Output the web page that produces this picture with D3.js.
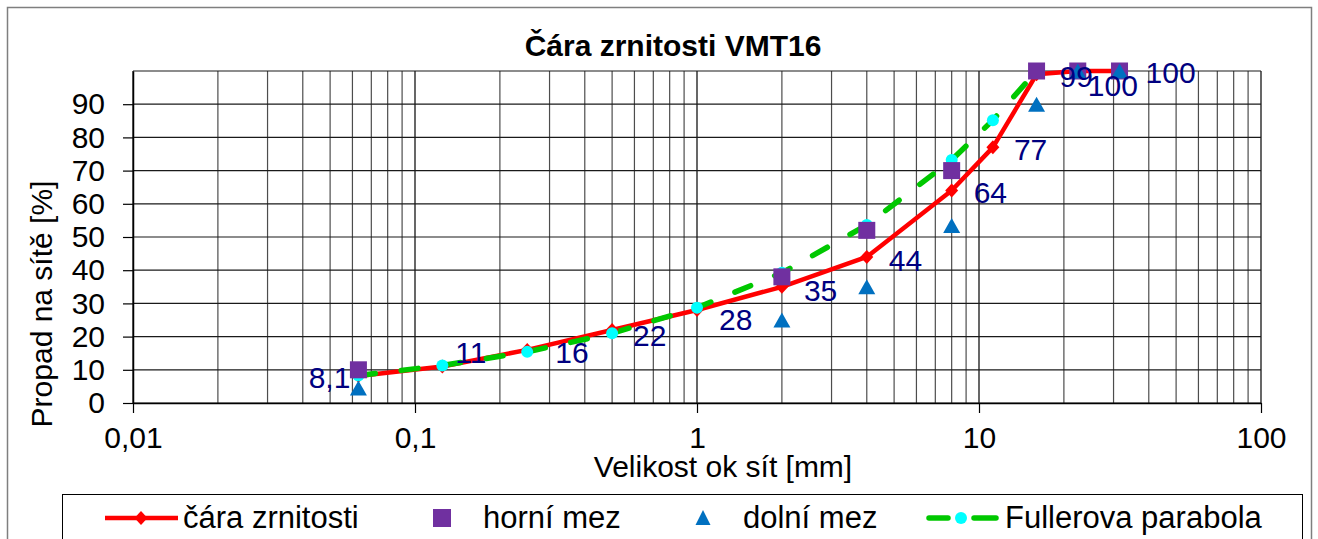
<!DOCTYPE html>
<html>
<head>
<meta charset="utf-8">
<script src="https://cdn.jsdelivr.net/npm/d3@7"></script>
<style>
  body { margin: 0; background: #fff; }
  svg { display: block; font-family: "Liberation Sans", Arial, sans-serif; }
</style>
</head>
<body>
<div id="chart"></div>
<script>
// sieve sizes [mm] and passing [%]
var sieves       = [0.063, 0.125, 0.25, 0.5, 1, 2, 4, 8, 11.2, 16, 22.4, 31.5];
var grading      = [8.1, 11, 16, 22, 28, 35, 44, 64, 77, 99, 100, 100];
var gradingText  = ["8,1", "11", "16", "22", "28", "35", "44", "64", "77", "99", "100", "100"];
var upperLimit   = [10, null, null, null, null, 38, 52, 70, null, 100, 100, 100];
var lowerLimit   = [4.5, null, null, null, null, 25, 35, 53.5, null, 90, 100, 100];
var fuller       = [8.3, 11.3, 15.4, 21, 28.7, 39.2, 53.6, 73.2, 85.2, 100, null, null];

var xTicks      = [0.01, 0.1, 1, 10, 100];
var xTickLabels = ["0,01", "0,1", "1", "10", "100"];
var yTicks      = [0, 10, 20, 30, 40, 50, 60, 70, 80, 90];

var seriesNames = ["čára zrnitosti", "horní mez", "dolní mez", "Fullerova parabola"];

var W = 1318, H = 539;
var red = "#ff0000", purple = "#7030a0", blue = "#0070c0", green = "#00c800", cyan = "#00ffff", navy = "#000080";

var svg = d3.select("#chart").append("svg")
  .attr("width", W).attr("height", H);

svg.append("rect").attr("width", W).attr("height", H).attr("fill", "#fff");
svg.append("rect")
  .attr("x", 7.5).attr("y", 7.5).attr("width", 1304).attr("height", 560)
  .attr("fill", "none").attr("stroke", "#7f7f7f").attr("stroke-width", 1.5);

var x = d3.scaleLog().domain([0.01, 100]).range([133, 1261]);
var y = d3.scaleLinear().domain([0, 100]).range([403, 71]);

// title
svg.append("text")
  .attr("x", 673).attr("y", 56)
  .attr("text-anchor", "middle")
  .style("font-weight", "bold").style("font-size", "30px")
  .text("Čára zrnitosti VMT16");

// grid
var grid = svg.append("g").attr("stroke", "#1a1a1a").attr("stroke-width", 1.2);
var vlines = [];
[0.01, 0.1, 1, 10].forEach(function (dec) {
  d3.range(1, 10).forEach(function (k) { vlines.push(dec * k); });
});
vlines.push(100);
grid.selectAll(".v").data(vlines).enter().append("line")
  .attr("x1", function (d) { return x(d); }).attr("x2", function (d) { return x(d); })
  .attr("y1", y(0)).attr("y2", y(100))
  .attr("stroke", function (d) { return xTicks.indexOf(d) >= 0 ? "#000" : "#4d4d4d"; });
grid.selectAll(".h").data(d3.range(0, 101, 10)).enter().append("line")
  .attr("x1", x(0.01)).attr("x2", x(100))
  .attr("y1", function (d) { return y(d); }).attr("y2", function (d) { return y(d); });

// axes
var fmtX = function (d) { return xTickLabels[xTicks.indexOf(d)]; };
var xAxis = svg.append("g")
  .attr("transform", "translate(0," + y(0) + ")")
  .call(d3.axisBottom(x).tickValues(xTicks).tickFormat(fmtX).tickSize(10).tickPadding(14).tickSizeOuter(0));
var yAxis = svg.append("g")
  .attr("transform", "translate(" + x(0.01) + ",0)")
  .call(d3.axisLeft(y).tickValues(yTicks).tickSize(10).tickPadding(18).tickSizeOuter(0));
[xAxis, yAxis].forEach(function (a) {
  a.select(".domain").attr("stroke", "#000").attr("stroke-width", 1.5);
  a.selectAll(".tick line").attr("stroke", "#000").attr("stroke-width", 1.2);
  a.selectAll(".tick text").attr("fill", "#000").style("font-size", "30px").style("font-family", "Liberation Sans, Arial, sans-serif");
});

svg.append("text")
  .attr("x", 723).attr("y", 477)
  .attr("text-anchor", "middle").style("font-size", "30px")
  .text("Velikost ok sít [mm]");
svg.append("text")
  .attr("transform", "translate(52,304) rotate(-90)")
  .attr("text-anchor", "middle").style("font-size", "30px")
  .text("Propad na sítě [%]");

// series helpers
function pts(vals) {
  return sieves.map(function (s, i) { return {x: s, y: vals[i], i: i}; })
    .filter(function (d) { return d.y !== null; });
}
var line = d3.line().x(function (d) { return x(d.x); }).y(function (d) { return y(d.y); });
var diamond = "M0,-7L6.5,0L0,7L-6.5,0Z";
var triangle = "M0,-8L8.5,7L-8.5,7Z";

var plot = svg.append("g");
var gData = pts(grading), fData = pts(fuller);

// lines first
plot.append("path").datum(gData).attr("d", line)
  .attr("fill", "none").attr("stroke", red).attr("stroke-width", 4.5).attr("stroke-linejoin", "round");
plot.append("path").datum(fData).attr("d", line)
  .attr("fill", "none").attr("stroke", green).attr("stroke-width", 5.5)
  .attr("stroke-dasharray", "17,26").attr("stroke-linecap", "round");

// markers
plot.selectAll(".dm").data(gData).enter().append("path")
  .attr("d", diamond).attr("fill", red)
  .attr("transform", function (d) { return "translate(" + x(d.x) + "," + y(d.y) + ")"; });
plot.selectAll(".ci").data(fData).enter().append("circle")
  .attr("cx", function (d) { return x(d.x); }).attr("cy", function (d) { return y(d.y); })
  .attr("r", 6).attr("fill", cyan);
plot.selectAll(".sq").data(pts(upperLimit)).enter().append("rect")
  .attr("x", function (d) { return x(d.x) - 8.5; }).attr("y", function (d) { return y(d.y) - 8.5; })
  .attr("width", 17).attr("height", 17).attr("fill", purple);
plot.selectAll(".tr").data(pts(lowerLimit)).enter().append("path")
  .attr("d", triangle).attr("fill", blue)
  .attr("transform", function (d) { return "translate(" + x(d.x) + "," + (y(d.y) + 0.5) + ")"; });

// data labels (nudged like the hand-placed originals)
var nudge = [[-8, 1], [13, -14], [28, 3], [21, 6], [22, 9], [22, 4], [22, 4], [22, 2], [21, 2], [23, 2], [10, 14], [26, 1]];
plot.selectAll(".lbl").data(gData).enter().append("text")
  .attr("x", function (d) { return x(d.x) + nudge[d.i][0]; })
  .attr("y", function (d) { return y(d.y) + nudge[d.i][1]; })
  .attr("dy", "0.35em")
  .attr("text-anchor", function (d) { return nudge[d.i][0] < 0 ? "end" : "start"; })
  .attr("fill", navy).style("font-size", "30px")
  .text(function (d) { return gradingText[d.i]; });

// legend
var lg = svg.append("g");
lg.append("rect").attr("x", 62.5).attr("y", 494.5).attr("width", 1240).attr("height", 70)
  .attr("fill", "#fff").attr("stroke", "#000").attr("stroke-width", 1);
var ly = 518;
var textX = [183, 483, 743, 1005];
lg.append("line").attr("x1", 105).attr("x2", 178).attr("y1", ly).attr("y2", ly)
  .attr("stroke", red).attr("stroke-width", 4.5);
lg.append("path").attr("d", diamond).attr("fill", red).attr("transform", "translate(141," + ly + ")");
lg.append("rect").attr("x", 433).attr("y", ly - 9).attr("width", 18).attr("height", 18).attr("fill", purple);
lg.append("path").attr("d", "M0,-8L7.5,7L-7.5,7Z").attr("fill", blue).attr("transform", "translate(703," + ly + ")");
lg.append("line").attr("x1", 929).attr("x2", 948).attr("y1", ly).attr("y2", ly)
  .attr("stroke", green).attr("stroke-width", 5.5).attr("stroke-linecap", "round");
lg.append("line").attr("x1", 974).attr("x2", 996).attr("y1", ly).attr("y2", ly)
  .attr("stroke", green).attr("stroke-width", 5.5).attr("stroke-linecap", "round");
lg.append("circle").attr("cx", 961).attr("cy", ly).attr("r", 6).attr("fill", cyan);
lg.selectAll(".lt").data(seriesNames).enter().append("text")
  .attr("x", function (d, i) { return textX[i]; })
  .attr("y", ly + 10)
  .style("font-size", "31px")
  .text(function (d) { return d; });
</script>
</body>
</html>
